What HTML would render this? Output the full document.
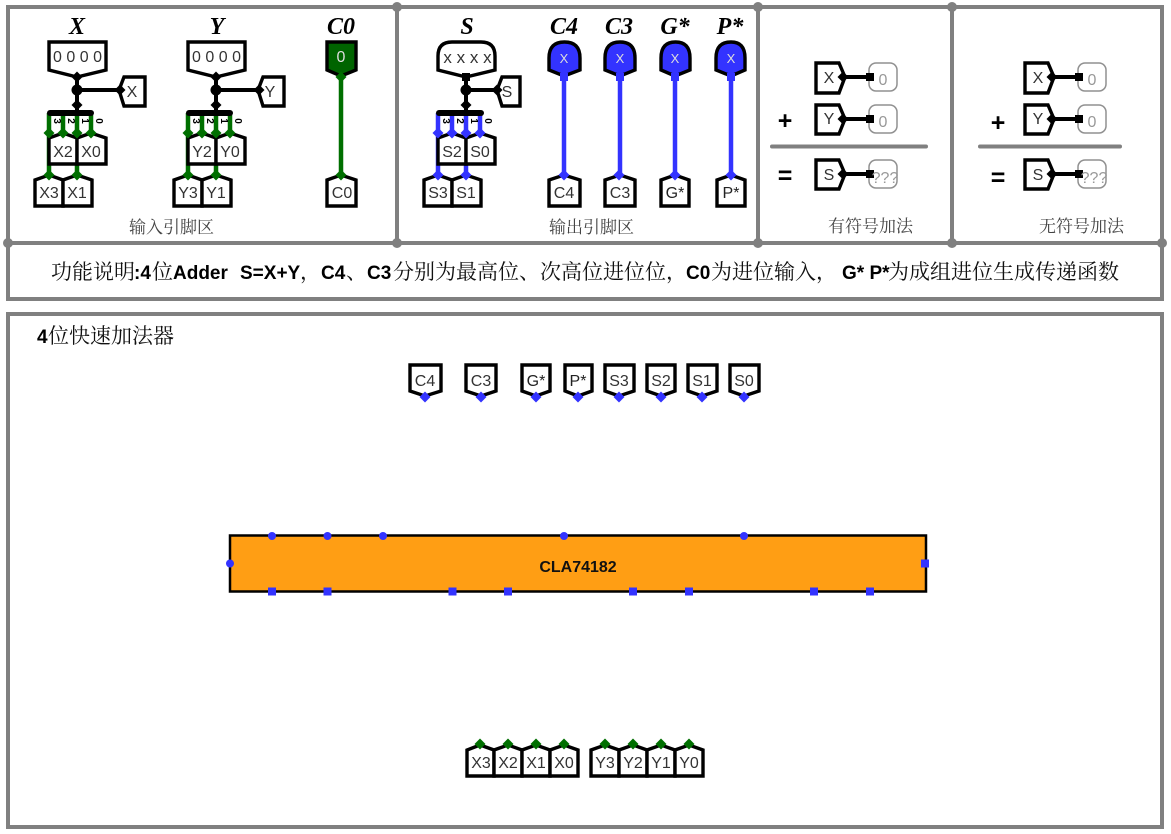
<!DOCTYPE html>
<html><head><meta charset="utf-8"><style>
html,body{margin:0;padding:0;background:#fff}
svg{display:block}
.p{fill:#fff;stroke:#000;stroke-width:3.400;stroke-linejoin:miter}
.t{font-family:"Liberation Sans",sans-serif;font-size:16px;fill:#333;text-anchor:middle}
.h{font-family:"Liberation Serif",serif;font-weight:bold;font-style:italic;font-size:24px;fill:#000;text-anchor:middle}
.c{font-family:"Liberation Serif","Noto Serif CJK SC",serif;font-size:17px;fill:#444}
.m{font-family:"Liberation Serif","Noto Serif CJK SC",serif;font-size:21px;fill:#111}
.l{font-family:"Liberation Sans",sans-serif;font-size:19px;font-weight:bold;fill:#000}
.n{font-family:"Liberation Sans",sans-serif;font-size:10px;font-weight:bold;fill:#000;text-anchor:middle}
.g{fill:none;stroke:#006f00;stroke-width:4.500}
.b{fill:none;stroke:#3333ff;stroke-width:4.500}
.k{fill:none;stroke:#000;stroke-width:4}
.f{fill:none;stroke:#808080;stroke-width:4}
.o{fill:#fff;stroke:#909090;stroke-width:1.500}
.v{font-family:"Liberation Sans",sans-serif;font-size:16px;fill:#999;text-anchor:middle}
.bb{font-family:"Liberation Sans",sans-serif;font-weight:bold;font-size:25px;fill:#000;text-anchor:middle}
</style></head><body>
<svg width="1171" height="834" viewBox="0 0 1171 834" xmlns="http://www.w3.org/2000/svg">
<defs>
<path id="dg" d="M0,-5.500 L5.500,0 L0,5.500 L-5.500,0 Z" fill="#006f00"/>
<path id="db" d="M0,-5.500 L5.500,0 L0,5.500 L-5.500,0 Z" fill="#3333ff"/>
<path id="dk" d="M0,-5.500 L5.500,0 L0,5.500 L-5.500,0 Z" fill="#000"/>
</defs>
<rect width="1171" height="834" fill="#fff"/>

<!-- frames -->
<rect class="f" x="8" y="7" width="1154" height="292"/>
<path class="f" d="M8,243H1162M397,7V243M758,7V243M952,7V243"/>
<rect class="f" x="8" y="314" width="1154" height="513"/>
<g fill="#808080">
<circle cx="397" cy="7" r="5"/><circle cx="758" cy="7" r="5"/><circle cx="952" cy="7" r="5"/>
<circle cx="8" cy="243" r="5"/><circle cx="397" cy="243" r="5"/><circle cx="758" cy="243" r="5"/><circle cx="952" cy="243" r="5"/><circle cx="1162" cy="243" r="5"/>
</g>

<!-- titles -->
<text class="h" x="77" y="34">X</text>
<text class="h" x="217" y="34">Y</text>
<text class="h" x="341" y="34">C0</text>
<text class="h" x="467" y="34">S</text>
<text class="h" x="564" y="34">C4</text>
<text class="h" x="619" y="34">C3</text>
<text class="h" x="675" y="34">G*</text>
<text class="h" x="730" y="34">P*</text>

<!-- X block -->
<path class="g" d="M49,113V175M63,113V133M77,113V175M91,113V133"/>
<path class="k" d="M77,76V113M77,90H120"/>
<path d="M50,113H91" stroke="#000" stroke-width="6" stroke-linecap="round"/>
<polygon class="p" points="49,42 106,42 106,70 77,77 49,70"/>
<polygon class="p" points="124,77 145,77 145,106 124,106 119,90"/>
<circle cx="77" cy="90" r="5.500"/><use href="#dk" x="77" y="77"/><use href="#dk" x="77" y="105"/><use href="#dk" x="120" y="90"/>
<polygon class="p" points="49,164 49,138 63,133 77,138 77,164"/>
<polygon class="p" points="77,164 77,138 91,133 106,138 106,164"/>
<polygon class="p" points="35,206 35,180 49,175 63,180 63,206"/>
<polygon class="p" points="63,206 63,180 77,175 92,180 92,206"/>
<use href="#dg" x="49" y="133"/><use href="#dg" x="63" y="133"/><use href="#dg" x="77" y="133"/><use href="#dg" x="91" y="133"/><use href="#dg" x="49" y="175"/><use href="#dg" x="77" y="175"/>
<text class="n" transform="translate(54,121) rotate(90)">3</text><text class="n" transform="translate(68,121) rotate(90)">2</text><text class="n" transform="translate(82,121) rotate(90)">1</text><text class="n" transform="translate(96,121) rotate(90)">0</text>
<text class="t" x="77.500" y="62">0 0 0 0</text>
<text class="t" x="132" y="97">X</text>
<text class="t" x="63" y="157">X2</text><text class="t" x="91" y="157">X0</text><text class="t" x="49" y="198">X3</text><text class="t" x="77" y="198">X1</text>

<!-- Y block -->
<path class="g" d="M188,113V175M202,113V133M216,113V175M230,113V133"/>
<path class="k" d="M216,76V113M216,90H259"/>
<path d="M189,113H230" stroke="#000" stroke-width="6" stroke-linecap="round"/>
<polygon class="p" points="188,42 245,42 245,70 216,77 188,70"/>
<polygon class="p" points="263,77 284,77 284,106 263,106 258,90"/>
<circle cx="216" cy="90" r="5.500"/><use href="#dk" x="216" y="77"/><use href="#dk" x="216" y="105"/><use href="#dk" x="259" y="90"/>
<polygon class="p" points="188,164 188,138 202,133 216,138 216,164"/>
<polygon class="p" points="216,164 216,138 230,133 245,138 245,164"/>
<polygon class="p" points="174,206 174,180 188,175 202,180 202,206"/>
<polygon class="p" points="202,206 202,180 216,175 231,180 231,206"/>
<use href="#dg" x="188" y="133"/><use href="#dg" x="202" y="133"/><use href="#dg" x="216" y="133"/><use href="#dg" x="230" y="133"/><use href="#dg" x="188" y="175"/><use href="#dg" x="216" y="175"/>
<text class="n" transform="translate(193,121) rotate(90)">3</text><text class="n" transform="translate(207,121) rotate(90)">2</text><text class="n" transform="translate(221,121) rotate(90)">1</text><text class="n" transform="translate(235,121) rotate(90)">0</text>
<text class="t" x="216.500" y="62">0 0 0 0</text>
<text class="t" x="270" y="97">Y</text>
<text class="t" x="202" y="157">Y2</text><text class="t" x="230" y="157">Y0</text><text class="t" x="188" y="198">Y3</text><text class="t" x="216" y="198">Y1</text>

<!-- C0 -->
<path class="g" d="M341,76V175"/>
<polygon class="p" style="fill:#006400" points="327,42 356,42 356,70 341,76 327,70"/>
<polygon class="p" points="327,206 327,180 341,175 356,180 356,206"/>
<use href="#dg" x="341" y="77"/><use href="#dg" x="341" y="175"/>
<text class="t" x="341" y="62" style="fill:#ddd">0</text>
<text class="t" x="342" y="198">C0</text>

<!-- S block -->
<path class="b" d="M438,113V175M452,113V133M466,113V175M480,113V133"/>
<path class="k" d="M466,76V113M466,90H498"/>
<path d="M439,113H481" stroke="#000" stroke-width="6" stroke-linecap="round"/>
<path class="p" d="M438,70V56Q438,42 452,42H481Q495,42 495,56V70L466,77Z"/>
<polygon class="p" points="502,77 520,77 520,106 502,106 497,90"/>
<rect x="462" y="73" width="8" height="8" fill="#000"/>
<circle cx="466" cy="90" r="5.500"/><use href="#dk" x="466" y="105"/><use href="#dk" x="497" y="90"/>
<polygon class="p" points="438,164 438,138 452,133 466,138 466,164"/>
<polygon class="p" points="466,164 466,138 480,133 495,138 495,164"/>
<polygon class="p" points="424,206 424,180 438,175 452,180 452,206"/>
<polygon class="p" points="452,206 452,180 466,175 481,180 481,206"/>
<use href="#db" x="438" y="133"/><use href="#db" x="452" y="133"/><use href="#db" x="466" y="133"/><use href="#db" x="480" y="133"/><use href="#db" x="438" y="175"/><use href="#db" x="466" y="175"/>
<text class="n" transform="translate(443,121) rotate(90)">3</text><text class="n" transform="translate(457,121) rotate(90)">2</text><text class="n" transform="translate(471,121) rotate(90)">1</text><text class="n" transform="translate(485,121) rotate(90)">0</text>
<text class="t" x="467.500" y="63" style="font-size:17px">x x x x</text>
<text class="t" x="507" y="97">S</text>
<text class="t" x="452" y="157">S2</text><text class="t" x="480" y="157">S0</text><text class="t" x="438" y="198">S3</text><text class="t" x="466" y="198">S1</text>

<!-- output columns -->
<path class="b" d="M564,76V175M620,76V175M675,76V175M731,76V175"/>
<g style="fill:#3333ff;stroke:#000;stroke-width:3.400">
<path d="M549,70V58Q549,42 564.500,42Q580,42 580,58V70L564,76Z"/>
<path d="M605,70V58Q605,42 620,42Q635,42 635,58V70L620,76Z"/>
<path d="M661,70V58Q661,42 675.500,42Q690,42 690,58V70L675,76Z"/>
<path d="M716,70V58Q716,42 731,42Q745,42 745,58V70L731,76Z"/>
</g>
<g fill="#3333ff"><rect x="560" y="73" width="8" height="8"/><rect x="616" y="73" width="8" height="8"/><rect x="671" y="73" width="8" height="8"/><rect x="727" y="73" width="8" height="8"/></g>
<polygon class="p" points="549,206 549,180 564,175 580,180 580,206"/>
<polygon class="p" points="605,206 605,180 620,175 635,180 635,206"/>
<polygon class="p" points="661,206 661,180 675,175 689,180 689,206"/>
<polygon class="p" points="717,206 717,180 731,175 745,180 745,206"/>
<use href="#db" x="564" y="175"/><use href="#db" x="619" y="175"/><use href="#db" x="675" y="175"/><use href="#db" x="731" y="175"/>
<text class="t" style="font-size:13px;fill:#ddd" x="564" y="63">X</text><text class="t" style="font-size:13px;fill:#ddd" x="620" y="63">X</text><text class="t" style="font-size:13px;fill:#ddd" x="675" y="63">X</text><text class="t" style="font-size:13px;fill:#ddd" x="731" y="63">X</text>
<text class="t" x="564" y="198">C4</text><text class="t" x="620" y="198">C3</text><text class="t" x="675" y="198" style="fill:#222">G*</text><text class="t" x="731" y="198" style="fill:#222">P*</text>

<text class="c" x="129" y="233">输入引脚区</text>
<text class="c" x="549" y="233">输出引脚区</text>
<text class="c" x="828" y="232">有符号加法</text>
<text class="c" x="1039" y="232">无符号加法</text>

<!-- signed adder -->
<path class="k" d="M846,77H870M846,119H870M846,174H870"/>
<polygon class="p" points="816,63 839,63 845,77 839,93 816,93"/>
<polygon class="p" points="816,105 839,105 845,119 839,134 816,134"/>
<polygon class="p" points="816,160 839,160 845,174 839,189 816,189"/>
<use href="#dk" x="843" y="77"/><use href="#dk" x="843" y="119"/><use href="#dk" x="843" y="174"/>
<rect class="o" x="869" y="63" width="28" height="28" rx="7"/><rect class="o" x="869" y="105" width="28" height="28" rx="7"/><rect class="o" x="869" y="160" width="28" height="28" rx="7"/>
<rect x="866" y="73" width="8" height="8"/><rect x="866" y="115" width="8" height="8"/><rect x="866" y="170" width="8" height="8"/>
<text class="t" x="829" y="83">X</text><text class="t" x="829" y="124">Y</text><text class="t" x="829" y="180">S</text>
<text class="v" x="883" y="85">0</text><text class="v" x="883" y="127">0</text><text class="v" x="885" y="183">???</text>
<path d="M772,146.500H926" stroke="#808080" stroke-width="4" stroke-linecap="round"/>
<text class="bb" x="785" y="129">+</text><text class="bb" x="785" y="184">=</text>

<!-- unsigned adder -->
<path class="k" d="M1055,77H1079M1055,119H1079M1055,174H1079"/>
<polygon class="p" points="1025,63 1048,63 1054,77 1048,93 1025,93"/>
<polygon class="p" points="1025,105 1048,105 1054,119 1048,134 1025,134"/>
<polygon class="p" points="1025,160 1048,160 1054,174 1048,189 1025,189"/>
<use href="#dk" x="1052" y="77"/><use href="#dk" x="1052" y="119"/><use href="#dk" x="1052" y="174"/>
<rect class="o" x="1078" y="63" width="28" height="28" rx="7"/><rect class="o" x="1078" y="105" width="28" height="28" rx="7"/><rect class="o" x="1078" y="160" width="28" height="28" rx="7"/>
<rect x="1075" y="73" width="8" height="8"/><rect x="1075" y="115" width="8" height="8"/><rect x="1075" y="170" width="8" height="8"/>
<text class="t" x="1038" y="83">X</text><text class="t" x="1038" y="124">Y</text><text class="t" x="1038" y="180">S</text>
<text class="v" x="1092" y="85">0</text><text class="v" x="1092" y="127">0</text><text class="v" x="1094" y="183">???</text>
<path d="M980,146.500H1120" stroke="#808080" stroke-width="4" stroke-linecap="round"/>
<text class="bb" x="998" y="131">+</text><text class="bb" x="998" y="186">=</text>

<!-- description -->
<text class="m" x="51" y="279">功能说明</text>
<text class="l" x="134" y="279">:4</text>
<text class="m" x="152" y="279">位</text>
<text class="l" x="173" y="279">Adder</text>
<text class="l" x="240" y="279">S=X+Y</text>
<text class="m" x="300" y="279">，</text>
<text class="l" x="321" y="279">C4</text>
<text class="m" x="346" y="279">、</text>
<text class="l" x="367" y="279">C3</text>
<text class="m" x="393" y="279">分别为最高位、次高位进位位，</text>
<text class="l" x="686" y="279">C0</text>
<text class="m" x="711" y="279">为进位输入，</text>
<text class="l" x="842" y="279">G* P*</text>
<text class="m" x="888" y="279">为成组进位生成传递函数</text>
<text class="l" x="37" y="343">4</text>
<text class="m" x="48" y="343">位快速加法器</text>

<!-- output pins top -->
<polygon class="p" points="410,365 441,365 441,391 425,396 410,391"/>
<polygon class="p" points="466,365 496,365 496,391 481,396 466,391"/>
<polygon class="p" points="522,365 550,365 550,391 536,396 522,391"/>
<polygon class="p" points="565,365 592,365 592,391 578,396 565,391"/>
<polygon class="p" points="605,365 634,365 634,391 619,396 605,391"/>
<polygon class="p" points="647,365 675,365 675,391 661,396 647,391"/>
<polygon class="p" points="688,365 717,365 717,391 702,396 688,391"/>
<polygon class="p" points="730,365 759,365 759,391 744,396 730,391"/>
<use href="#db" x="425" y="397"/><use href="#db" x="481" y="397"/><use href="#db" x="536" y="397"/><use href="#db" x="578" y="397"/><use href="#db" x="619" y="397"/><use href="#db" x="661" y="397"/><use href="#db" x="702" y="397"/><use href="#db" x="744" y="397"/>
<text class="t" x="425" y="386">C4</text><text class="t" x="481" y="386">C3</text><text class="t" x="536" y="386" style="fill:#222">G*</text><text class="t" x="578" y="386" style="fill:#222">P*</text><text class="t" x="619" y="386">S3</text><text class="t" x="661" y="386">S2</text><text class="t" x="702" y="386">S1</text><text class="t" x="744" y="386">S0</text>

<!-- chip -->
<rect x="230" y="535.500" width="696" height="56" fill="#ff9e14" stroke="#000" stroke-width="2.500"/>
<text x="578" y="572" font-family="Liberation Sans,sans-serif" font-weight="bold" font-size="16" fill="#111" text-anchor="middle">CLA74182</text>
<g fill="#3333ff">
<circle cx="272" cy="536" r="4"/><circle cx="327.500" cy="536" r="4"/><circle cx="383" cy="536" r="4"/><circle cx="564" cy="536" r="4"/><circle cx="744" cy="536" r="4"/><circle cx="230" cy="563.500" r="4"/>
<rect x="268" y="587.500" width="8" height="8"/><rect x="323.500" y="587.500" width="8" height="8"/><rect x="448.500" y="587.500" width="8" height="8"/><rect x="504" y="587.500" width="8" height="8"/><rect x="629" y="587.500" width="8" height="8"/><rect x="685" y="587.500" width="8" height="8"/><rect x="810" y="587.500" width="8" height="8"/><rect x="866" y="587.500" width="8" height="8"/><rect x="921" y="559.500" width="8" height="8"/>
</g>

<!-- input pins bottom -->
<polygon class="p" points="467,776 467,750 480,745 494,750 494,776"/>
<polygon class="p" points="494,776 494,750 508,745 522,750 522,776"/>
<polygon class="p" points="522,776 522,750 536,745 550,750 550,776"/>
<polygon class="p" points="550,776 550,750 564,745 578,750 578,776"/>
<polygon class="p" points="591,776 591,750 605,745 619,750 619,776"/>
<polygon class="p" points="619,776 619,750 633,745 647,750 647,776"/>
<polygon class="p" points="647,776 647,750 661,745 675,750 675,776"/>
<polygon class="p" points="675,776 675,750 689,745 703,750 703,776"/>
<use href="#dg" x="480" y="744"/><use href="#dg" x="508" y="744"/><use href="#dg" x="536" y="744"/><use href="#dg" x="564" y="744"/><use href="#dg" x="605" y="744"/><use href="#dg" x="633" y="744"/><use href="#dg" x="661" y="744"/><use href="#dg" x="689" y="744"/>
<text class="t" x="481" y="768">X3</text><text class="t" x="508" y="768">X2</text><text class="t" x="536" y="768">X1</text><text class="t" x="564" y="768">X0</text><text class="t" x="605" y="768">Y3</text><text class="t" x="633" y="768">Y2</text><text class="t" x="661" y="768">Y1</text><text class="t" x="689" y="768">Y0</text>
</svg>
</body></html>
